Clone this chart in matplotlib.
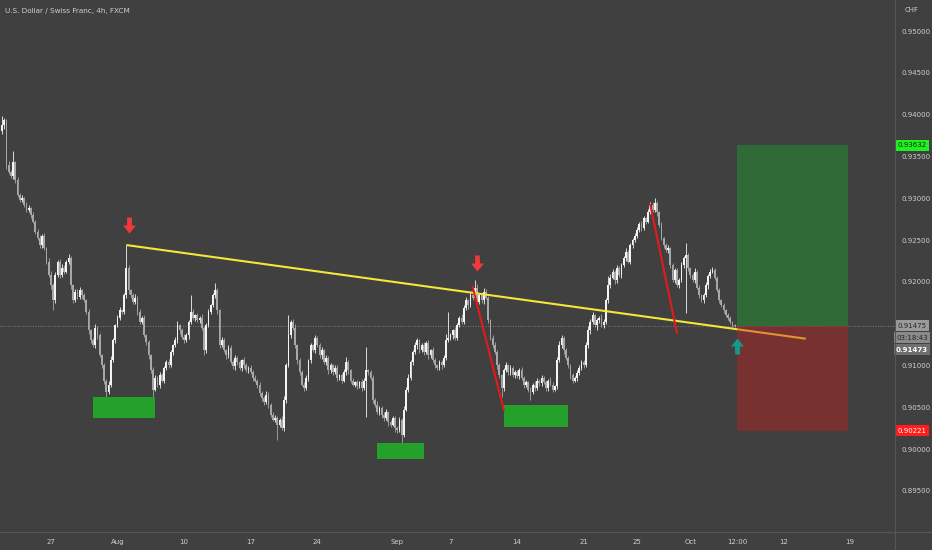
"""
USD/CHF 4h chart with a descending trendline, demand zones and a long position.
Candles are read off the TradingView screenshot, one row per trading day.
"""

import numpy as np
import pandas as pd
import matplotlib
matplotlib.use("Agg")
import matplotlib.pyplot as plt
from matplotlib import transforms
from matplotlib.lines import Line2D
from matplotlib.patches import Rectangle
from matplotlib.path import Path


# ---- data (prices in pips, i.e. price * 10000) ----
first_open = 9380
close = [
    9387, 9393, 9340, 9331,                       # Jul 21 (from 08:00)
    9326, 9343, 9322, 9304, 9298, 9300,           # Jul 22
    9292, 9286, 9288, 9280, 9272, 9260,           # Jul 23
    9252, 9244, 9255, 9240, 9224, 9208,           # Jul 24
    9196, 9178, 9208, 9224, 9208, 9216,           # Jul 27
    9212, 9224, 9228, 9196, 9178, 9188,           # Jul 28
    9182, 9190, 9184, 9178, 9164, 9142,           # Jul 29
    9130, 9124, 9145, 9136, 9112, 9100,           # Jul 30
    9082, 9068, 9077, 9106, 9130, 9148,           # Jul 31
    9157, 9166, 9164, 9184, 9216, 9190,           # Aug 3
    9184, 9176, 9181, 9164, 9152, 9157,           # Aug 4
    9136, 9128, 9112, 9094, 9071, 9085,           # Aug 5
    9077, 9088, 9082, 9097, 9104, 9100,           # Aug 6
    9116, 9124, 9130, 9148, 9142, 9134,           # Aug 7
    9130, 9136, 9152, 9164, 9157, 9160,           # Aug 10
    9154, 9157, 9145, 9118, 9148, 9164,           # Aug 11
    9172, 9184, 9190, 9166, 9124, 9130,           # Aug 12
    9118, 9112, 9121, 9104, 9099, 9109,           # Aug 13
    9104, 9097, 9106, 9100, 9094, 9097,           # Aug 14
    9092, 9085, 9082, 9077, 9067, 9061,           # Aug 17
    9056, 9065, 9053, 9041, 9035, 9037,           # Aug 18
    9029, 9035, 9025, 9059, 9100, 9136,           # Aug 19
    9152, 9145, 9124, 9106, 9092, 9077,           # Aug 20
    9073, 9085, 9106, 9124, 9118, 9133,           # Aug 21
    9124, 9112, 9118, 9104, 9109, 9094,           # Aug 24
    9100, 9092, 9097, 9085, 9088, 9082,           # Aug 25
    9092, 9104, 9094, 9082, 9077, 9080,           # Aug 26
    9075, 9080, 9073, 9082, 9094, 9092,           # Aug 27
    9085, 9059, 9053, 9044, 9049, 9041,           # Aug 28
    9037, 9044, 9032, 9029, 9037, 9025,           # Aug 31
    9023, 9035, 9017, 9047, 9071, 9085,           # Sep 1
    9104, 9116, 9124, 9130, 9118, 9124,           # Sep 2
    9116, 9127, 9112, 9118, 9106, 9100,           # Sep 3
    9097, 9104, 9100, 9109, 9130, 9133,           # Sep 4
    9136, 9142, 9133, 9148, 9157, 9152,           # Sep 7
    9169, 9178, 9172, 9184, 9181, 9193,           # Sep 8
    9176, 9184, 9178, 9188, 9181, 9154,           # Sep 9
    9133, 9124, 9116, 9100, 9088, 9073,           # Sep 10
    9094, 9100, 9092, 9097, 9088, 9092,           # Sep 11
    9087, 9094, 9085, 9077, 9080, 9071,           # Sep 14
    9068, 9077, 9073, 9082, 9079, 9085,           # Sep 15
    9080, 9073, 9082, 9077, 9071, 9075,           # Sep 16
    9106, 9124, 9133, 9118, 9109, 9100,           # Sep 17
    9088, 9082, 9085, 9091, 9097, 9104,           # Sep 18
    9100, 9124, 9142, 9152, 9160, 9148,           # Sep 21
    9154, 9157, 9148, 9152, 9178, 9196,           # Sep 22
    9205, 9212, 9202, 9216, 9208, 9220,           # Sep 23
    9228, 9236, 9224, 9244, 9250, 9255,           # Sep 24
    9262, 9269, 9264, 9276, 9272, 9283,           # Sep 25
    9292, 9286, 9294, 9283, 9268, 9252,           # Sep 28
    9244, 9238, 9240, 9220, 9202, 9214,           # Sep 29
    9196, 9202, 9220, 9228, 9232, 9216,           # Sep 30
    9208, 9202, 9212, 9193, 9184, 9178,           # Oct 1
    9184, 9196, 9207, 9212, 9214, 9205,           # Oct 2
    9190, 9178, 9172, 9166, 9160, 9157,           # Oct 5
    9152, 9148, 9147.3,                           # Oct 6
]

# wick length beyond the body, in pips
wick_up = [
    5, 3, 2, 4,
    3, 6, 2, 3, 2, 4,  2, 3, 4, 2, 3, 2,  3, 4, 2, 3, 2, 4,
    5, 3, 4, 2, 3, 5,  4, 2, 5, 3, 2, 3,  3, 4, 2, 3, 2, 3,
    2, 3, 4, 2, 3, 2,  3, 2, 4, 5, 3, 2,  3, 4, 2, 3, 6, 4,
    2, 3, 4, 2, 3, 2,  3, 2, 3, 2, 4, 3,  2, 4, 3, 2, 3, 4,
    3, 2, 4, 5, 2, 3,  4, 3, 2, 6, 3, 2,  3, 2, 4, 2, 3, 4,
    2, 3, 5, 3, 2, 4,  3, 2, 4, 3, 2, 3,  2, 3, 2, 4, 3, 2,
    3, 2, 4, 2, 3, 2,  2, 4, 3, 2, 3, 4,  3, 2, 4, 5, 3, 6,
    2, 3, 4, 2, 3, 2,  3, 4, 2, 3, 2, 4,  2, 3, 4, 2, 3, 2,
    3, 2, 4, 3, 2, 3,  4, 6, 3, 2, 3, 2,  3, 2, 4, 3, 6, 2,
    2, 3, 2, 4, 3, 2,  3, 4, 2, 3, 2, 3,  2, 3, 2, 4, 3, 5,
    3, 2, 4, 3, 2, 3,  4, 2, 3, 2, 4, 3,  2, 3, 2, 4, 8, 3,
    3, 2, 4, 3, 2, 4,  3, 4, 2, 3, 4, 3,  4, 3, 2, 5, 3, 2,
    2, 3, 4, 2, 3, 2,  3, 4, 2, 3, 2, 3,  2, 3, 4, 2, 3, 2,
    3, 2, 4, 3, 2, 3,  2, 3, 2, 4, 3, 2,  4, 5, 3, 2, 3, 2,
    2, 3, 2, 3, 4, 3,  3, 4, 5, 3, 4, 2,  3, 2, 4, 3, 3, 4,
    4, 3, 2, 4, 3, 2,  3, 4, 2, 3, 2, 4,  3, 2, 4, 3, 2, 4,
    4, 3, 2, 3, 2, 3,  2, 3, 4, 2, 3, 2,  3, 2, 4, 3, 2, 3,
    2, 3, 4, 2, 3, 2,  3, 4, 2, 3, 4, 2,  2, 3, 2, 3, 2, 3,
    2, 1, 1,
]
wick_dn = [
    3, 4, 5, 2,
    2, 3, 4, 3, 2, 3,  3, 2, 3, 4, 2, 3,  2, 3, 4, 2, 3, 2,
    4, 4, 3, 2, 3, 2,  3, 2, 3, 4, 3, 2,  2, 3, 4, 2, 3, 4,
    3, 2, 3, 4, 2, 3,  4, 3, 2, 3, 2, 3,  2, 3, 3, 2, 3, 4,
    3, 2, 3, 4, 2, 3,  2, 3, 4, 3, 3, 2,  3, 4, 2, 3, 2, 3,
    2, 3, 2, 3, 4, 2,  3, 2, 4, 2, 3, 4,  2, 3, 2, 6, 3, 2,
    3, 2, 3, 4, 3, 2,  2, 4, 3, 2, 3, 4,  3, 2, 4, 3, 2, 3,
    2, 3, 2, 4, 3, 4,  3, 2, 4, 3, 2, 3,  4, 3, 2, 3, 4, 2,
    3, 2, 3, 4, 3, 2,  3, 2, 4, 3, 2, 3,  2, 3, 4, 2, 3, 4,
    3, 4, 2, 3, 2, 3,  2, 3, 4, 3, 2, 3,  3, 2, 3, 2, 8, 3,
    2, 4, 3, 2, 3, 4,  3, 2, 4, 3, 2, 4,  4, 3, 2, 3, 2, 3,
    2, 3, 2, 4, 3, 2,  3, 2, 4, 3, 2, 3,  2, 3, 4, 2, 3, 2,
    3, 4, 2, 3, 2, 3,  2, 3, 4, 2, 3, 2,  3, 2, 3, 4, 2, 3,
    2, 3, 2, 4, 3, 2,  3, 2, 4, 3, 2, 3,  2, 3, 2, 4, 3, 3,
    3, 2, 3, 2, 4, 3,  2, 3, 4, 2, 3, 2,  3, 2, 3, 4, 2, 3,
    4, 3, 2, 3, 2, 3,  3, 2, 3, 4, 3, 2,  6, 3, 2, 3, 2, 3,
    3, 2, 4, 3, 2, 3,  2, 3, 2, 3, 4, 2,  3, 2, 3, 2, 3, 2,
    2, 3, 2, 4, 3, 2,  3, 2, 4, 3, 2, 3,  2, 3, 2, 3, 2, 3,
    3, 2, 3, 2, 3, 2,  3, 2, 4, 3, 2, 3,  2, 3, 2, 3, 2, 3,
    2, 2, 1,
]

# long spikes that stand out (bar index -> pips)
spike_high = {0: 9398, 5: 9356, 56: 9244, 85: 9184, 96: 9199, 129: 9160,
              164: 9122, 201: 9164, 213: 9202, 273: 9207, 294: 9300, 308: 9246}
spike_low = {23: 9166, 47: 9056, 68: 9050, 124: 9011, 164: 9038, 180: 8999,
             225: 9062, 238: 9059, 308: 9163}

# drawings
trend_line = [(56, 0.9244), (362, 0.9132)]           # yellow
red_legs = [[(212, 0.9194), (226, 0.9047)],
            [(292, 0.9292), (304, 0.9139)]]
demand_zones = [(41, 69, 0.9037, 0.9062),            # (bar from, bar to, low, high)
                (169, 190, 0.8988, 0.9007),
                (226, 255, 0.9026, 0.9053)]
sell_arrows = [(57, 0.9268), (214, 0.9222)]
buy_arrow = (331, 0.9123)
position_bars = (331, 381)
entry, target, stop = 0.91475, 0.93632, 0.90221
last_price = 0.91473
countdown = "03:18:43"

price_ticks = [0.895, 0.900, 0.905, 0.910, 0.920, 0.925, 0.930,
               0.935, 0.940, 0.945, 0.950]
date_ticks = [("27", "2020-07-27"), ("Aug", "2020-08-03"), ("10", "2020-08-10"),
              ("17", "2020-08-17"), ("24", "2020-08-24"), ("Sep", "2020-09-01"),
              ("7", "2020-09-07"), ("14", "2020-09-14"), ("21", "2020-09-21"),
              ("25", "2020-09-25"), ("Oct", "2020-10-01"), ("12:00", "2020-10-06 12:00"),
              ("12", "2020-10-12"), ("19", "2020-10-19")]


# ---- build OHLC ----
c = np.array(close, dtype=float) / 10000
o = np.concatenate([[first_open / 10000], c[:-1]])
h = np.maximum(o, c) + np.array(wick_up) / 10000
l = np.minimum(o, c) - np.array(wick_dn) / 10000
for i, v in spike_high.items():
    h[i] = v / 10000
for i, v in spike_low.items():
    l[i] = v / 10000
n = len(c)
x = np.arange(n)

# 4h bar clock without weekends, so dates map to bar numbers
days = pd.bdate_range("2020-07-21", "2020-10-30")
bar_times = [d + pd.Timedelta(hours=hh) for d in days for hh in range(0, 24, 4)]
bar_times = [t for t in bar_times if t >= pd.Timestamp("2020-07-21 08:00")]
bar_index = {t: i for i, t in enumerate(bar_times)}

# ---- figure ----
BG = "#404040"
TXT = "#cfcfcf"
W, H = 932, 550
fig = plt.figure(figsize=(W / 100, H / 100), dpi=100, facecolor=BG)
ax = fig.add_axes([0, 18 / H, 895 / W, 532 / H], facecolor=BG)
ax.set_xlim(-0.9, 402.2)
ax.set_ylim(0.89008, 0.95371)
for s in ax.spines.values():
    s.set_visible(False)

# candles
up = c >= o
colors = np.where(up, "#f4f4f4", "#a8a8a8")
body = np.maximum(np.abs(c - o), 0.00009)
ax.vlines(x, l, h, colors=colors, lw=0.6, zorder=2)
ax.bar(x, body, bottom=np.minimum(o, c), width=0.8, color=colors, linewidth=0, zorder=2)

# demand zones
for b0, b1, lo, hi in demand_zones:
    ax.add_patch(Rectangle((b0, lo), b1 - b0, hi - lo, facecolor="#24a12b",
                           edgecolor="none", zorder=3))

# trendline and red legs
(tx0, ty0), (tx1, ty1) = trend_line
ax.plot([tx0, tx1], [ty0, ty1], color="#f5e63a", lw=1.5, zorder=4, solid_capstyle="butt")
for (ax0, ay0), (ax1, ay1) in red_legs:
    ax.plot([ax0, ax1], [ay0, ay1], color="#e31b1b", lw=1.5, zorder=4)

# long position box
p0, p1 = position_bars
ax.add_patch(Rectangle((p0, entry), p1 - p0, target - entry, facecolor="#2f6a37",
                       edgecolor="none", zorder=3))
ax.add_patch(Rectangle((p0, stop), p1 - p0, entry - stop, facecolor="#c81e1e",
                       alpha=0.42, edgecolor="none", zorder=5))

# arrows
down_path = Path([(-0.15, 0.5), (0.15, 0.5), (0.15, 0.0), (0.4, 0.0), (0.0, -0.5),
                  (-0.4, 0.0), (-0.15, 0.0), (-0.15, 0.5)], closed=True)
up_path = Path(down_path.vertices * [1, -1], down_path.codes)
for bx, by in sell_arrows:
    ax.plot(bx, by, marker=down_path, ms=11.5, color="#f03a3a", mec="none", zorder=6)
ax.plot(buy_arrow[0], buy_arrow[1], marker=up_path, ms=11.5, color="#16998a",
        mec="none", zorder=6)

# current price line
ax.axhline(entry, color="#8c8c8c", lw=0.6, ls=(0, (1, 2)), zorder=1)

# axes text
ax.yaxis.tick_right()
ax.set_yticks(price_ticks)
ax.set_yticklabels([f"{p:.5f}" for p in price_ticks])
ax.tick_params(axis="y", length=0, pad=5, labelsize=5, labelcolor=TXT)
ax.set_xticks([bar_index[pd.Timestamp(d)] for _, d in date_ticks])
ax.set_xticklabels([lab for lab, _ in date_ticks])
ax.tick_params(axis="x", length=0, pad=5, labelsize=5, labelcolor=TXT)

fig.add_artist(Line2D([895 / W, 895 / W], [0, 1], color="#565656", lw=0.8))
fig.add_artist(Line2D([0, 1], [18 / H, 18 / H], color="#565656", lw=0.8))

fig.text(5 / W, 1 - 11 / H, "U.S. Dollar / Swiss Franc, 4h, FXCM", color=TXT,
         fontsize=5.2, va="center", ha="left")
fig.text(912 / W, 1 - 10 / H, "CHF", color=TXT, fontsize=5, va="center", ha="center")

tag_tf = transforms.blended_transform_factory(fig.transFigure, ax.transData)


def price_tag(y, text, bg, fg, dy=0, bold=False):
    ax.annotate(text, xy=(912 / W, y), xycoords=tag_tf, xytext=(0, dy),
                textcoords="offset points", ha="center", va="center", fontsize=5,
                color=fg, fontweight="bold" if bold else "normal",
                bbox=dict(boxstyle="square,pad=0.35", fc=bg, ec="none"),
                annotation_clip=False, zorder=10)


price_tag(target, f"{target:.5f}", "#1ef21e", "#1a1a1a")
price_tag(entry, f"{entry:.5f}", "#9a9a9a", "#262626")
price_tag(entry, countdown, "#8a8a8a", "#262626", dy=-8.6)
price_tag(entry, f"{last_price:.5f}", "#6f6f6f", "#ffffff", dy=-17.3, bold=True)
price_tag(stop, f"{stop:.5f}", "#ff1c1c", "#ffffff")

fig.savefig("out.png", dpi=100, facecolor=BG)
